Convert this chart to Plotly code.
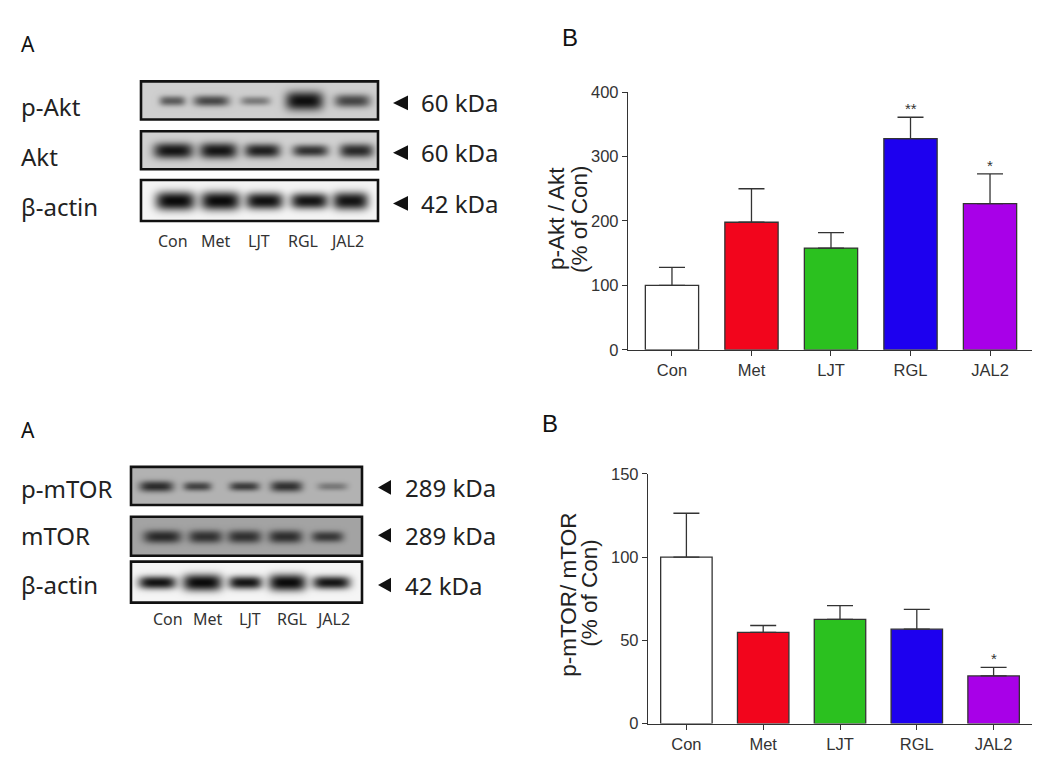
import numpy as np
import plotly.graph_objects as go

W, H = 1064, 765          # target picture size
OFF = 8                   # default page (body) margin kept by the browser
FW, FH = W - 2 * OFF, H - 2 * OFF

# ---------------- data ----------------
groups = ["Con", "Met", "LJT", "RGL", "JAL2"]
bar_colors = ["#ffffff", "#f2051c", "#2bc11f", "#1d00ef", "#a800e8"]

akt_ratio = [100, 198, 158, 328, 227]
akt_sem = [28, 52, 24, 33, 46]
akt_sig = ["", "", "", "**", "*"]

mtor_ratio = [100, 54.8, 62.6, 56.7, 28.6]
mtor_sem = [26.3, 4.1, 8.2, 11.9, 5.2]
mtor_sig = ["", "", "", "", "*"]

# western blot band intensities (darkness, 0..1)
blot_names_top = ["p-Akt", "Akt", "β-actin"]
blot_kda_top = ["60 kDa", "60 kDa", "42 kDa"]
pakt_int = [0.55, 0.65, 0.40, 0.93, 0.66]
akt_int = [0.90, 0.90, 0.85, 0.76, 0.80]
actin1_int = [0.96, 0.96, 0.93, 0.92, 0.92]

blot_names_bot = ["p-mTOR", "mTOR", "β-actin"]
blot_kda_bot = ["289 kDa", "289 kDa", "42 kDa"]
pmtor_int = [0.75, 0.62, 0.66, 0.72, 0.32]
mtor_int = [0.75, 0.70, 0.70, 0.72, 0.66]
actin2_int = [0.93, 0.96, 0.92, 0.96, 0.92]


def px(x):
    return (x - OFF) / FW


def py(y):
    return 1 - (y - OFF) / FH


fig = go.Figure()
shapes = []
annotations = []
layout_axes = {}

TXT = "#333333"
AX = "#333333"
ARIAL = "Liberation Sans, Arial, sans-serif"
NOTO = "Noto Sans, Noto Sans CJK KR, sans-serif"


# ---------------- western blots ----------------
def add_blot(idx, left, right, top, bottom, centers, hws, hhs, ints, bg):
    w = right - left
    h = bottom - top
    xs = np.linspace(0, w, int(w) + 1)
    ys = np.linspace(0, h, int(h) + 1)
    X, Y = np.meshgrid(xs, ys)
    cy = h / 2
    z = np.full_like(X, bg, dtype=float)
    for c, hw, hh, it in zip(centers, hws, hhs, ints):
        cx = c - left
        band = it * np.exp(-np.abs((X - cx) / hw) ** 4) * np.exp(-np.abs((Y - cy) / hh) ** 2.5)
        z = 1 - (1 - z) * (1 - band)
    z = np.clip(z, 0, 1)
    xa = f"x{idx}"
    ya = f"y{idx}"
    fig.add_trace(go.Heatmap(
        x=xs, y=ys, z=z, xaxis=xa, yaxis=ya,
        colorscale=[[0, "#ffffff"], [1, "#000000"]], zmin=0, zmax=1,
        zsmooth="best", showscale=False, hoverinfo="skip"))
    layout_axes[f"xaxis{idx}"] = dict(domain=[px(left), px(right)], range=[0, w],
                                      visible=False, anchor=ya)
    layout_axes[f"yaxis{idx}"] = dict(domain=[py(bottom), py(top)], range=[h, 0],
                                      visible=False, anchor=xa)
    shapes.append(dict(type="rect", xref="paper", yref="paper",
                       x0=px(left), x1=px(right), y0=py(bottom), y1=py(top),
                       line=dict(color="#111111", width=2.6)))


def add_arrow(xl, xr, yc, size=7.5):
    shapes.append(dict(type="path", xref="paper", yref="paper",
                       path=f"M {px(xl)} {py(yc)} L {px(xr)} {py(yc - size)} L {px(xr)} {py(yc + size)} Z",
                       fillcolor="#111111", line=dict(width=0)))


def txt(x, y, s, size, font=NOTO, xanchor="left", color="#222222", angle=0):
    annotations.append(dict(x=px(x), y=py(y), xref="paper", yref="paper", text=s,
                            showarrow=False, xanchor=xanchor, yanchor="middle",
                            textangle=angle,
                            font=dict(family=font, size=size, color=color)))


# top blots
L1, R1 = 141, 378
add_blot(3, L1, R1, 74, 113, [172, 211, 255, 304, 352], [13, 18, 15, 19, 18],
         [5.5, 6, 5, 10, 7], pakt_int, 0.19)
add_blot(4, L1, R1, 125, 164, [173, 218, 262, 310, 356], [20, 19, 18, 18, 17],
         [8.5, 8.5, 7.5, 6.5, 7.5], akt_int, 0.18)
add_blot(5, L1, R1, 175, 217, [175, 220, 264, 309, 350], [20, 20, 19, 19, 18],
         [10, 10, 9, 8.5, 9.5], actin1_int, 0.04)

# bottom blots
L2, R2 = 131, 362
add_blot(6, L2, R2, 469, 508, [156, 197, 244, 286, 332], [17, 14, 15, 16, 15],
         [6, 5, 5, 6, 4.5], pmtor_int, 0.30)
add_blot(7, L2, R2, 520, 560, [162, 205, 244, 285, 327], [19, 17, 17, 17, 16],
         [7, 7, 7, 7, 6], mtor_int, 0.36)
add_blot(8, L2, R2, 566, 608, [157, 202, 245, 287, 331], [19, 20, 17, 19, 19],
         [7, 9, 7, 9, 7], actin2_int, 0.04)

# blot labels, arrows, kDa
for name, kda, yc, ly in zip(blot_names_top, blot_kda_top, [96, 147, 199], [100, 151, 202]):
    txt(19, ly, name, 24)
    add_arrow(393, 408, yc)
    txt(419, yc, kda, 24)
for name, kda, yc, ly in zip(blot_names_bot, blot_kda_bot, [490, 539, 590], [491, 539, 589]):
    txt(19, ly, name, 24)
    add_arrow(378, 391, yc)
    txt(403, yc, kda, 24)

for g, x in zip(groups, [173, 216, 259, 303, 347]):
    txt(x, 238, g, 16, xanchor="center", color="#333333")
for g, x in zip(groups, [168, 208, 250, 292, 333]):
    txt(x, 625, g, 16, xanchor="center", color="#333333")

# panel letters
txt(27.5, 36, "A", 21, xanchor="center", color="#111111")
txt(27.5, 431, "A", 21, xanchor="center", color="#111111")
txt(570, 29, "B", 24, font=ARIAL, xanchor="center", color="#111111")
txt(550, 424, "B", 24, font=ARIAL, xanchor="center", color="#111111")


# ---------------- bar charts ----------------
def add_bars(xa, ya, vals, sem, sig):
    fig.add_trace(go.Bar(
        x=groups, y=vals, xaxis=xa, yaxis=ya, width=0.67,
        marker=dict(color=bar_colors, line=dict(color=AX, width=1.3)),
        error_y=dict(type="data", array=sem, arrayminus=[0] * len(sem), symmetric=False,
                     color=AX, thickness=1.3, width=13),
        showlegend=False, hoverinfo="skip"))
    for g, v, s, t in zip(groups, vals, sem, sig):
        if t:
            annotations.append(dict(x=g, y=v + s, xref=xa, yref=ya, text=t, showarrow=False,
                                    yanchor="bottom", xanchor="center", yshift=-2,
                                    font=dict(family=ARIAL, size=15, color=TXT)))


add_bars("x", "y", akt_ratio, akt_sem, akt_sig)
add_bars("x2", "y2", mtor_ratio, mtor_sem, mtor_sig)

axis_common = dict(showline=True, linecolor=AX, linewidth=1.3, ticks="outside",
                   ticklen=5, tickcolor=AX, tickwidth=1.3, showgrid=False, zeroline=False,
                   tickfont=dict(family=ARIAL, size=16.5, color=TXT), fixedrange=True)

layout_axes["xaxis"] = dict(domain=[px(628), px(1032)], range=[-0.553, 4.528], anchor="y",
                            **axis_common)
layout_axes["yaxis"] = dict(domain=[py(349), py(85)], range=[0, 400], tickvals=[0, 100, 200, 300, 400],
                            anchor="x", **axis_common)
layout_axes["xaxis2"] = dict(domain=[px(648), px(1032)], range=[-0.5, 4.5], anchor="y2",
                             **axis_common)
layout_axes["yaxis2"] = dict(domain=[py(732), py(476)], range=[0, 150], tickvals=[0, 50, 100, 150],
                             anchor="x2", **axis_common)

# axis titles (two tight lines each)
txt(556, 215, "p-Akt / Akt", 22.5, font=ARIAL, xanchor="center", angle=-90)
txt(579, 215, "(% of Con)", 22.5, font=ARIAL, xanchor="center", angle=-90)
txt(569, 600, "p-mTOR/ mTOR", 22.5, font=ARIAL, xanchor="center", angle=-90)
txt(590, 598, "(% of Con)", 22.5, font=ARIAL, xanchor="center", angle=-90)

fig.update_layout(
    width=FW, height=FH, margin=dict(l=0, r=0, t=0, b=0),
    paper_bgcolor="white", plot_bgcolor="rgba(0,0,0,0)",
    showlegend=False, bargap=0.33,
    shapes=shapes, annotations=annotations, **layout_axes)

fig.write_html("out.html", config={"displayModeBar": False})
